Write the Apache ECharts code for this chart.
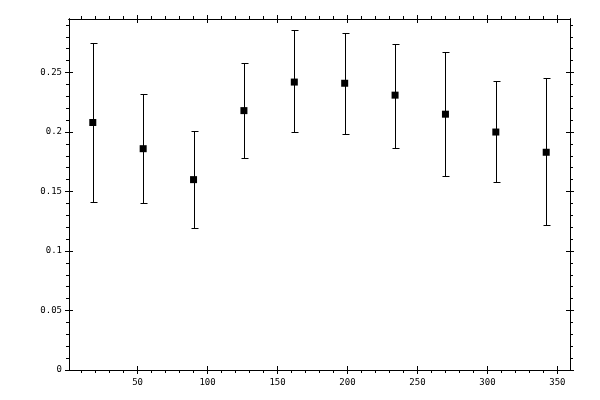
<!DOCTYPE html>
<html>
	<head>
		<meta charset="utf-8">
		<title>chart</title>
		<script type="text/javascript" src="https://cdn.jsdelivr.net/npm/echarts@6/dist/echarts.min.js"></script>
		<style>
			html, body { margin: 0; padding: 0; background: #FFFFFF; }
			#main { width: 600px; height: 400px; }
		</style>
	</head>
	<body>
		<div id="main"></div>
		<script type="text/javascript">
			// data
			var xs = [18, 54, 90, 126, 162, 198, 234, 270, 306, 342];
			var means = [0.208, 0.186, 0.160, 0.218, 0.242, 0.241, 0.231, 0.215, 0.200, 0.183];
			var lows = [0.141, 0.140, 0.119, 0.178, 0.200, 0.198, 0.187, 0.163, 0.158, 0.122];
			var highs = [0.275, 0.232, 0.201, 0.258, 0.286, 0.283, 0.274, 0.267, 0.243, 0.245];

			var xMajor = [50, 100, 150, 200, 250, 300, 350];
			var xMinor = [10, 20, 30, 40, 60, 70, 80, 90, 110, 120, 130, 140, 160, 170, 180, 190, 210, 220, 230, 240, 260, 270, 280, 290, 310, 320, 330, 340];
			var yMajor = [0, 0.05, 0.1, 0.15, 0.2, 0.25];
			var yMinor = [0.01, 0.02, 0.03, 0.04, 0.06, 0.07, 0.08, 0.09, 0.11, 0.12, 0.13, 0.14, 0.16, 0.17, 0.18, 0.19, 0.21, 0.22, 0.23, 0.24, 0.26, 0.27, 0.28, 0.29];

			var pointData = [];
			var barData = [];
			for (var i = 0; i < xs.length; i++) {
				pointData.push([xs[i], means[i]]);
				barData.push([xs[i], lows[i], highs[i]]);
			}

			var lineStyle = { color: '#000000', width: 1 };
			var labelStyle = { fontFamily: 'DejaVu Sans Mono', fontSize: 9, color: '#000000' };

			// one axis per tick kind: majors cross the frame, minors stick out
			function makeAxis(kind, pos, ticks, inside, len, withLabel) {
				var ax = {
					type: 'value',
					position: pos,
					min: kind == 'x' ? 1 : 0,
					max: kind == 'x' ? 359 : 0.295,
					splitLine: { show: false },
					axisLine: { show: true, onZero: false, lineStyle: lineStyle },
					axisTick: { show: true, inside: inside, length: len, customValues: ticks, lineStyle: lineStyle },
					axisLabel: { show: false }
				};
				if (withLabel) {
					ax.axisLabel = {
						show: true,
						customValues: ticks,
						margin: kind == 'x' ? 8 : 7,
						fontFamily: labelStyle.fontFamily,
						fontSize: labelStyle.fontSize,
						color: labelStyle.color
					};
				}
				return ax;
			}

			var xAxes = [
				makeAxis('x', 'bottom', xMajor, false, 4, true),
				makeAxis('x', 'bottom', xMajor, true, 4, false),
				makeAxis('x', 'bottom', xMinor, false, 3, false),
				makeAxis('x', 'top', xMajor, false, 4, false),
				makeAxis('x', 'top', xMajor, true, 4, false),
				makeAxis('x', 'top', xMinor, false, 3, false)
			];
			var yAxes = [
				makeAxis('y', 'left', yMajor, false, 4, true),
				makeAxis('y', 'left', yMajor, true, 4, false),
				makeAxis('y', 'left', yMinor, false, 3, false),
				makeAxis('y', 'right', yMajor, false, 4, false),
				makeAxis('y', 'right', yMajor, true, 4, false),
				makeAxis('y', 'right', yMinor, false, 3, false)
			];

			// snap to pixel centres so 1px lines stay crisp
			function px(v) {
				return Math.round(v) + 0.5;
			}

			var option = {
				animation: false,
				backgroundColor: '#FFFFFF',
				grid: { left: 69, right: 30, top: 19, bottom: 30 },
				xAxis: xAxes,
				yAxis: yAxes,
				series: [{
					type: 'custom',
					xAxisIndex: 0,
					yAxisIndex: 0,
					data: barData,
					renderItem: function(params, api) {
						var x = api.value(0);
						var lo = api.coord([x, api.value(1)]);
						var hi = api.coord([x, api.value(2)]);
						var cx = px(lo[0]);
						var y1 = px(lo[1]);
						var y2 = px(hi[1]);
						var cap = 3;
						var st = { stroke: '#000', lineWidth: 1 };
						return {
							type: 'group',
							children: [
								{ type: 'line', shape: { x1: cx, y1: y1, x2: cx, y2: y2 }, style: st },
								{ type: 'line', shape: { x1: cx - cap, y1: y1, x2: cx + cap + 1, y2: y1 }, style: st },
								{ type: 'line', shape: { x1: cx - cap, y1: y2, x2: cx + cap + 1, y2: y2 }, style: st }
							]
						};
					}
				}, {
					type: 'scatter',
					xAxisIndex: 0,
					yAxisIndex: 0,
					symbol: 'rect',
					symbolSize: 7,
					itemStyle: { color: '#000000', opacity: 1 },
					data: pointData,
					z: 5
				}]
			};

			var myChart = echarts.init(document.getElementById('main'));
			myChart.setOption(option);
		</script>
	</body>
</html>
